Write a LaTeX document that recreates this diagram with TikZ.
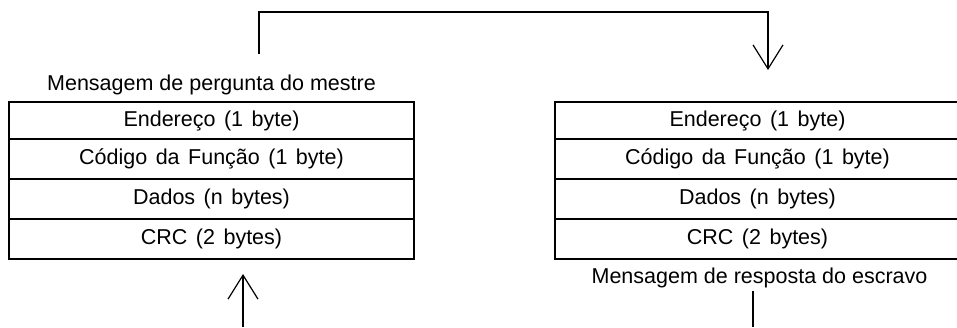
\documentclass[tikz,border=0pt]{standalone}
\usepackage{fontspec}
\setmainfont{Liberation Sans}
\usetikzlibrary{arrows.meta, positioning, calc}
\newcommand{\fieldfont}{\fontsize{21.5}{25}\selectfont\spaceskip 8.5pt\relax}

\begin{document}
\begin{tikzpicture}[
    x=1pt, y=1pt,
    field/.style={rectangle, draw=black, line width=1.2pt, outer sep=0pt, minimum width=405pt, minimum height=40pt, inner sep=0pt, font=\fieldfont},
    caption/.style={inner sep=0pt, font=\fontsize{21.5}{25}\selectfont},
    link/.style={line width=1.2pt, color=black},
    flow/.style={-{Straight Barb[length=24pt, width=30pt, line width=1.2pt]}, line width=1.2pt, color=black}
]
\useasboundingbox (0,0) rectangle (957,-327);
% pergunta do mestre
\node[field, minimum height=37pt] (qaddr) at (211.5,-120.5) {Endereço (1 byte)};
\node[field, below=0pt of qaddr] (qfunc) {Código da Função (1 byte)};
\node[field, below=0pt of qfunc] (qdata) {Dados (n bytes)};
\node[field, below=0pt of qdata] (qcrc) {CRC (2 bytes)};
\node[caption] (qtitle) at (211.5,-85) {Mensagem de pergunta do mestre};
% resposta do escravo
\node[field, minimum height=37pt] (raddr) at (757.5,-120.5) {Endereço (1 byte)};
\node[field, below=0pt of raddr] (rfunc) {Código da Função (1 byte)};
\node[field, below=0pt of rfunc] (rdata) {Dados (n bytes)};
\node[field, below=0pt of rdata] (rcrc) {CRC (2 bytes)};
\node[caption] (rtitle) at (759.5,-278) {Mensagem de resposta do escravo};
% conectores
\coordinate (sendstart) at (259,-54);
\coordinate (sendend) at (768,-70);
\coordinate (backin) at (243,-327);
\coordinate (backtip) at (243,-274);
\coordinate (outtop) at (753,-291);
\coordinate (outbottom) at (753,-327);
\draw[flow] (sendstart) -- ++(0,42) -| (sendend);
\draw[flow] (backin) -- (backtip);
\draw[link] (outtop) -- (outbottom);
\end{tikzpicture}
\end{document}
